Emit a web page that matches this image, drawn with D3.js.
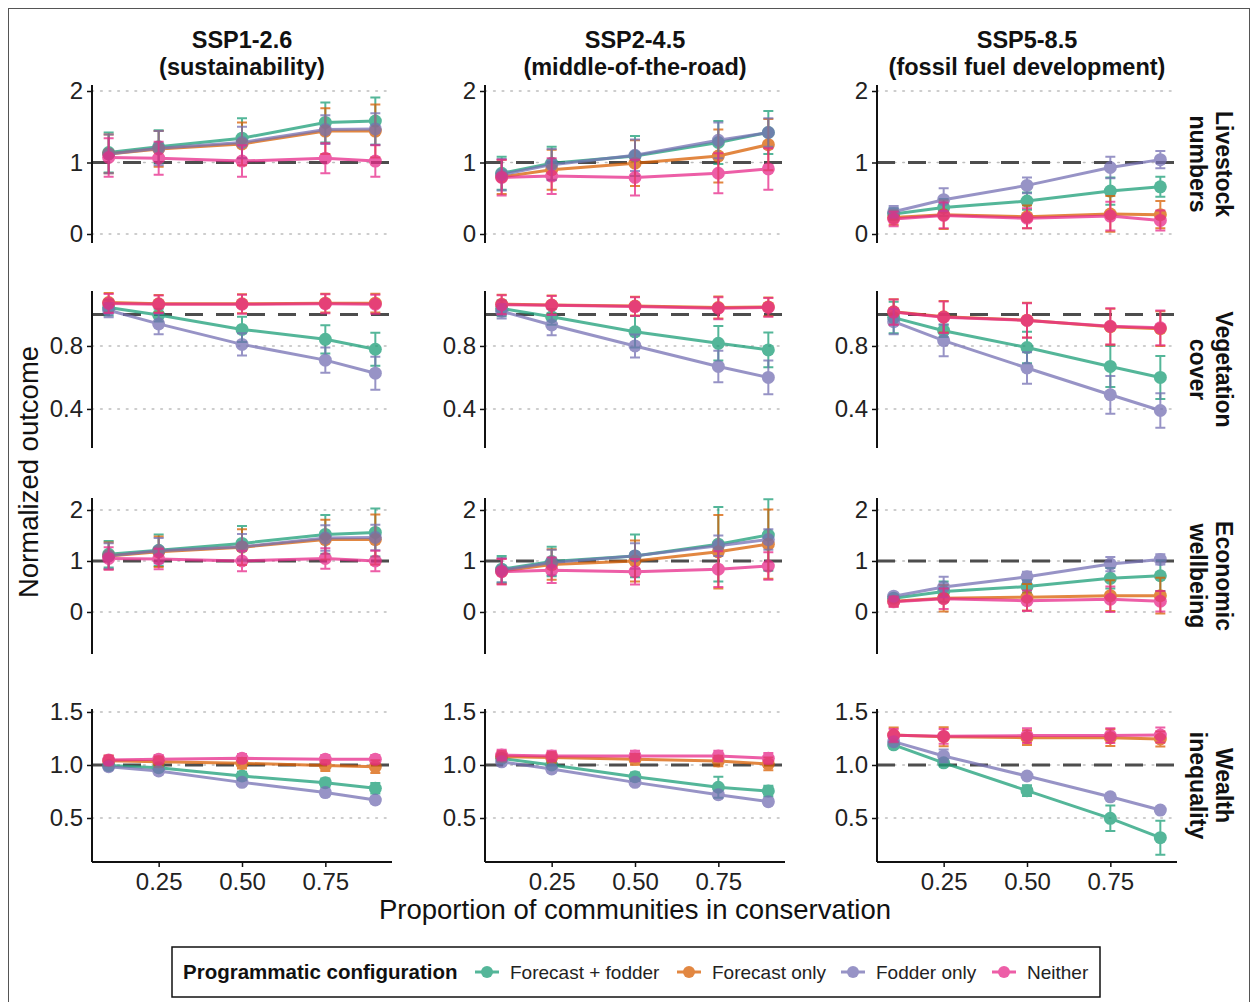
<!DOCTYPE html>
<html><head><meta charset="utf-8">
<script src="https://cdn.jsdelivr.net/npm/d3@7"></script>
<style>body{margin:0;background:#fff;} svg{display:block;font-family:"Liberation Sans",Arial,sans-serif;}</style>
</head><body>
<script>
// ---------- data ----------
const xValues = [0.1, 0.25, 0.5, 0.75, 0.9];
const xTicks = [0.25, 0.5, 0.75];
const scenarios = ["SSP1-2.6", "SSP2-4.5", "SSP5-8.5"];
const scenarioSub = ["(sustainability)", "(middle-of-the-road)", "(fossil fuel development)"];
const outcomes = [["Livestock", "numbers"], ["Vegetation", "cover"], ["Economic", "wellbeing"], ["Wealth", "inequality"]];
const configs = ["Forecast + fodder", "Forecast only", "Fodder only", "Neither"];
const colors = ["#1B9E77", "#D95F02", "#7570B3", "#E7298A"];
const yTicks = [[0, 1, 2], [0.4, 0.8], [0, 1, 2], [0.5, 1.0, 1.5]];
const yTickFmt = ["d", ".1f", "d", ".1f"];
const yLimits = [[-0.126, 2.084], [0.152, 1.149], [-0.824, 2.235], [0.085, 1.528]];

// means [scenario][config][x]
const livestockMean = [
  [[1.14,1.22,1.34,1.56,1.58],[1.12,1.19,1.26,1.44,1.44],[1.12,1.20,1.28,1.46,1.47],[1.07,1.06,1.02,1.06,1.02]],
  [[0.85,0.99,1.09,1.28,1.42],[0.80,0.90,0.99,1.09,1.25],[0.83,0.97,1.10,1.31,1.42],[0.79,0.81,0.79,0.85,0.91]],
  [[0.28,0.37,0.46,0.60,0.66],[0.23,0.27,0.24,0.28,0.27],[0.31,0.48,0.68,0.93,1.04],[0.21,0.26,0.22,0.25,0.19]]
];
const livestockErr = [
  [[0.28,0.23,0.28,0.28,0.33],[0.27,0.25,0.30,0.32,0.37],[0.27,0.24,0.22,0.20,0.22],[0.27,0.23,0.22,0.21,0.22]],
  [[0.23,0.23,0.28,0.30,0.30],[0.24,0.28,0.32,0.37,0.36],[0.22,0.22,0.22,0.25,0.20],[0.25,0.25,0.25,0.28,0.29]],
  [[0.08,0.12,0.12,0.19,0.14],[0.10,0.20,0.16,0.25,0.19],[0.08,0.16,0.11,0.15,0.12],[0.10,0.18,0.14,0.20,0.14]]
];
const vegetationMean = [
  [[1.044,0.996,0.905,0.842,0.779],[1.076,1.068,1.068,1.072,1.072],[1.027,0.94,0.81,0.71,0.627],[1.07,1.065,1.065,1.068,1.065]],
  [[1.038,0.985,0.89,0.817,0.775],[1.065,1.06,1.053,1.044,1.048],[1.02,0.933,0.80,0.67,0.60],[1.062,1.058,1.05,1.04,1.045]],
  [[0.98,0.897,0.79,0.67,0.60],[1.017,0.985,0.964,0.922,0.91],[0.954,0.834,0.66,0.49,0.39],[1.015,0.983,0.962,0.925,0.915]]
];
const vegetationErr = [
  [[0.05,0.04,0.08,0.09,0.105],[0.06,0.055,0.06,0.06,0.06],[0.045,0.065,0.07,0.08,0.105],[0.06,0.055,0.06,0.06,0.06]],
  [[0.05,0.05,0.10,0.11,0.11],[0.06,0.06,0.06,0.07,0.06],[0.045,0.065,0.073,0.10,0.107],[0.06,0.06,0.06,0.07,0.06]],
  [[0.10,0.04,0.10,0.13,0.137],[0.08,0.10,0.11,0.115,0.11],[0.08,0.10,0.10,0.12,0.11],[0.08,0.10,0.11,0.115,0.11]]
];
const economicMean = [
  [[1.13,1.21,1.345,1.52,1.56],[1.10,1.18,1.27,1.42,1.42],[1.10,1.20,1.28,1.45,1.46],[1.05,1.04,1.00,1.05,1.00]],
  [[0.84,0.99,1.10,1.33,1.51],[0.80,0.93,1.00,1.18,1.33],[0.82,0.97,1.10,1.30,1.42],[0.79,0.82,0.79,0.84,0.90]],
  [[0.27,0.40,0.50,0.66,0.71],[0.21,0.27,0.29,0.32,0.32],[0.31,0.49,0.69,0.94,1.03],[0.20,0.26,0.22,0.25,0.21]]
];
const economicErr = [
  [[0.26,0.31,0.34,0.38,0.47],[0.26,0.30,0.35,0.39,0.49],[0.25,0.25,0.25,0.25,0.25],[0.22,0.20,0.20,0.20,0.20]],
  [[0.26,0.29,0.42,0.73,0.70],[0.25,0.30,0.40,0.72,0.68],[0.24,0.25,0.25,0.20,0.20],[0.25,0.25,0.25,0.35,0.27]],
  [[0.06,0.20,0.12,0.20,0.30],[0.10,0.26,0.26,0.30,0.35],[0.06,0.20,0.10,0.14,0.10],[0.10,0.20,0.20,0.25,0.20]]
];
const wealthMean = [
  [[0.994,0.975,0.896,0.833,0.78],[1.04,1.03,1.016,0.994,0.984],[0.984,0.943,0.836,0.74,0.67],[1.047,1.053,1.063,1.053,1.053]],
  [[1.063,1.0,0.89,0.79,0.755],[1.08,1.07,1.053,1.038,1.01],[1.03,0.962,0.836,0.72,0.654],[1.094,1.085,1.085,1.085,1.063]],
  [[1.19,1.02,0.758,0.497,0.314],[1.283,1.267,1.258,1.258,1.245],[1.22,1.085,0.896,0.70,0.575],[1.28,1.27,1.277,1.277,1.283]]
];
const wealthErr = [
  [[0.03,0.03,0.04,0.04,0.05],[0.05,0.05,0.05,0.05,0.06],[0.03,0.03,0.03,0.03,0.03],[0.04,0.04,0.04,0.04,0.04]],
  [[0.03,0.03,0.04,0.10,0.05],[0.05,0.05,0.05,0.05,0.06],[0.03,0.03,0.03,0.03,0.03],[0.05,0.05,0.05,0.05,0.05]],
  [[0.03,0.02,0.05,0.12,0.16],[0.07,0.09,0.07,0.08,0.07],[0.02,0.06,0.02,0.02,0.02],[0.06,0.07,0.07,0.07,0.07]]
];
const meansByOutcome = [livestockMean, vegetationMean, economicMean, wealthMean];
const errsByOutcome = [livestockErr, vegetationErr, economicErr, wealthErr];

// ---------- layout ----------
const W = 1250, H = 1002;
const colLeft = [92, 485, 877], panelW = 300;
const rowTop = [85, 291, 498, 709], rowBottom = [243, 448, 654, 862];
const alpha = 0.75;
const FONT = "Liberation Sans, Arial, sans-serif";

const svg = d3.select("body").append("svg").attr("width", W).attr("height", H);
svg.append("rect").attr("x", 0).attr("y", 0).attr("width", W).attr("height", H).attr("fill", "#fff");
svg.append("rect").attr("x", 8.5).attr("y", 8.5).attr("width", W - 9).attr("height", H).attr("fill", "none").attr("stroke", "#555").attr("stroke-width", 1);

const x = d3.scaleLinear().domain([0.05, 0.95]).range([0, panelW]);

scenarios.forEach((s, ci) => {
  const cx = colLeft[ci] + panelW / 2;
  svg.append("text").attr("x", cx).attr("y", 48).attr("text-anchor", "middle").attr("font-weight", "bold").attr("font-size", 23.5).attr("fill", "#111").text(s);
  svg.append("text").attr("x", cx).attr("y", 74.5).attr("text-anchor", "middle").attr("font-weight", "bold").attr("font-size", 23.5).attr("fill", "#111").text(scenarioSub[ci]);
});

outcomes.forEach((o, ri) => {
  const y = d3.scaleLinear().domain(yLimits[ri]).range([rowBottom[ri], rowTop[ri]]);
  // strip labels
  const cy = (rowTop[ri] + rowBottom[ri]) / 2;
  const st = svg.append("text").attr("transform", `translate(1224,${cy}) rotate(90)`).attr("text-anchor", "middle")
    .attr("font-weight", "bold").attr("font-size", 23).attr("fill", "#111");
  st.append("tspan").attr("x", 0).attr("dy", "0.35em").text(o[0]);
  st.append("tspan").attr("x", 0).attr("dy", 26).text(o[1]);

  scenarios.forEach((s, ci) => {
    const g = svg.append("g").attr("transform", `translate(${colLeft[ci]},0)`);
    // gridlines
    g.selectAll(".grid").data(yTicks[ri]).join("line")
      .attr("x1", 0).attr("x2", panelW).attr("y1", d => y(d)).attr("y2", d => y(d))
      .attr("stroke", "#bdbdbd").attr("stroke-width", 1.6).attr("stroke-dasharray", "1.6,7").attr("stroke-linecap", "round");
    // reference line
    g.append("line").attr("x1", 0).attr("x2", panelW).attr("y1", y(1)).attr("y2", y(1))
      .attr("stroke", "#4d4d4d").attr("stroke-width", 3).attr("stroke-dasharray", "18,13");
    // y axis
    const yAx = d3.axisLeft(y).tickValues(yTicks[ri]).tickFormat(d3.format(yTickFmt[ri])).tickSize(5).tickPadding(4);
    const ya = g.append("g").call(yAx);
    ya.select(".domain").attr("stroke", "#111").attr("stroke-width", 2).attr("d", `M0,${rowTop[ri]}V${rowBottom[ri]}`);
    ya.selectAll(".tick line").attr("stroke", "#111").attr("stroke-width", 1.5);
    ya.selectAll(".tick text").attr("font-size", 24).attr("fill", "#222").attr("font-family", FONT);
    if (ri === 3) {
      const xa = g.append("g").attr("transform", `translate(0,${rowBottom[ri]})`)
        .call(d3.axisBottom(x).tickValues(xTicks).tickFormat(d3.format(".2f")).tickSize(5).tickPadding(6));
      xa.select(".domain").attr("stroke", "#111").attr("stroke-width", 2).attr("d", `M0,0H${panelW}`);
      xa.selectAll(".tick line").attr("stroke", "#111").attr("stroke-width", 1.5);
      xa.selectAll(".tick text").attr("font-size", 24).attr("fill", "#222").attr("font-family", FONT);
    }
    const means = meansByOutcome[ri][ci], errs = errsByOutcome[ri][ci];
    configs.forEach((c, k) => {
      const pts = xValues.map((xv, i) => ({x: xv, m: means[k][i], e: errs[k][i]}));
      const sg = g.append("g").attr("opacity", alpha);
      sg.append("path").datum(pts)
        .attr("d", d3.line().x(d => x(d.x)).y(d => y(d.m)))
        .attr("fill", "none").attr("stroke", colors[k]).attr("stroke-width", 3);
      sg.selectAll(".eb").data(pts).join("path")
        .attr("d", d => `M${x(d.x) - 5},${y(d.m + d.e)}H${x(d.x) + 5}M${x(d.x)},${y(d.m + d.e)}V${y(d.m - d.e)}M${x(d.x) - 5},${y(d.m - d.e)}H${x(d.x) + 5}`)
        .attr("fill", "none").attr("stroke", colors[k]).attr("stroke-width", 2);
      sg.selectAll("circle").data(pts).join("circle")
        .attr("cx", d => x(d.x)).attr("cy", d => y(d.m)).attr("r", 6.5).attr("fill", colors[k]);
    });
  });
});

// axis titles
svg.append("text").attr("transform", "translate(38,472) rotate(-90)").attr("text-anchor", "middle")
  .attr("font-size", 27.5).attr("fill", "#111").text("Normalized outcome");
svg.append("text").attr("x", 635).attr("y", 919).attr("text-anchor", "middle")
  .attr("font-size", 27.5).attr("fill", "#111").text("Proportion of communities in conservation");

// legend
const lg = svg.append("g");
lg.append("rect").attr("x", 172).attr("y", 947).attr("width", 928).attr("height", 50).attr("fill", "#fff").attr("stroke", "#111").attr("stroke-width", 1.5);
lg.append("text").attr("x", 183).attr("y", 979).attr("font-weight", "bold").attr("font-size", 20.5).attr("fill", "#111").text("Programmatic configuration");
const legX = [487, 689, 853, 1004];
configs.forEach((c, k) => {
  const it = lg.append("g").attr("transform", `translate(${legX[k]},972)`).attr("opacity", alpha);
  it.append("line").attr("x1", -12).attr("x2", 12).attr("stroke", colors[k]).attr("stroke-width", 3);
  it.append("circle").attr("r", 6).attr("fill", colors[k]);
  lg.append("text").attr("x", legX[k] + 23).attr("y", 979).attr("font-size", 19).attr("fill", "#222").text(c);
});
</script>
</body></html>
